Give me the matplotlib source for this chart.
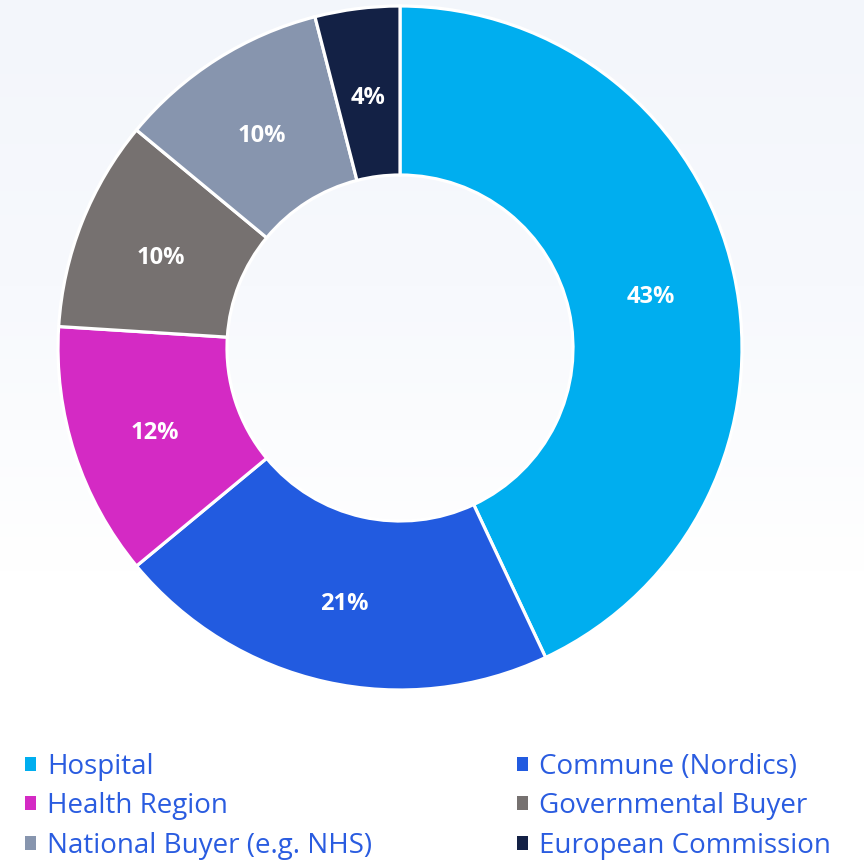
import numpy as np
import matplotlib.pyplot as plt
from matplotlib.colors import LinearSegmentedColormap
from matplotlib.patches import Patch

labels = ["Hospital", "Commune (Nordics)", "Health Region", "Governmental Buyer",
          "National Buyer (e.g. NHS)", "European Commission"]
shares = [43, 21, 12, 10, 10, 4]
colors = ["#00aeef", "#225be0", "#d42ac4", "#767170", "#8795ae", "#132145"]

plt.rcParams['font.family'] = ['Open Sans', 'DejaVu Sans']

fig = plt.figure(figsize=(8.64, 8.6), dpi=100)

# soft background gradient, light blue-grey at top fading to white
bg = fig.add_axes([0, 0, 1, 1])
grad = np.linspace(0, 1, 256).reshape(-1, 1)
bg.imshow(grad, aspect='auto', extent=[0, 1, 0, 1],
          cmap=LinearSegmentedColormap.from_list('bg', ["#f3f6fb", "#f7f9fd", "#ffffff", "#ffffff"]))
bg.axis('off')

ax = fig.add_axes([0, 0, 1, 1])
ax.patch.set_alpha(0)
cx, cy, R, W = 400, 512, 342, 169
wedges, _ = ax.pie(shares, colors=colors, startangle=90, counterclock=False,
                   radius=R, center=(cx, cy),
                   wedgeprops=dict(width=W, edgecolor='white', linewidth=2.3))
ax.set_xlim(0, 864)
ax.set_ylim(0, 860)
ax.set_aspect('equal')
ax.axis('off')

for w, v in zip(wedges, shares):
    ang = np.deg2rad((w.theta1 + w.theta2) / 2)
    r = R - W / 2
    ax.text(cx + r * np.cos(ang), cy + r * np.sin(ang) - 5, f"{v}%",
            ha='center', va='center', color='white', fontsize=17, fontweight='bold')

order = [0, 2, 4, 1, 3, 5]
handles = [Patch(facecolor=colors[i], edgecolor='none') for i in order]
leg = fig.legend(handles, [labels[i] for i in order], ncol=2, loc='upper left',
                 bbox_to_anchor=(25 / 864, 1 - 753 / 860), frameon=False, fontsize=20,
                 borderpad=0, borderaxespad=0,
                 handlelength=0.4, handleheight=0.4, handletextpad=0.4,
                 columnspacing=5.2, labelspacing=0.41)
for t in leg.get_texts():
    t.set_color("#2a5ce0")

fig.savefig("out.png", dpi=100)
